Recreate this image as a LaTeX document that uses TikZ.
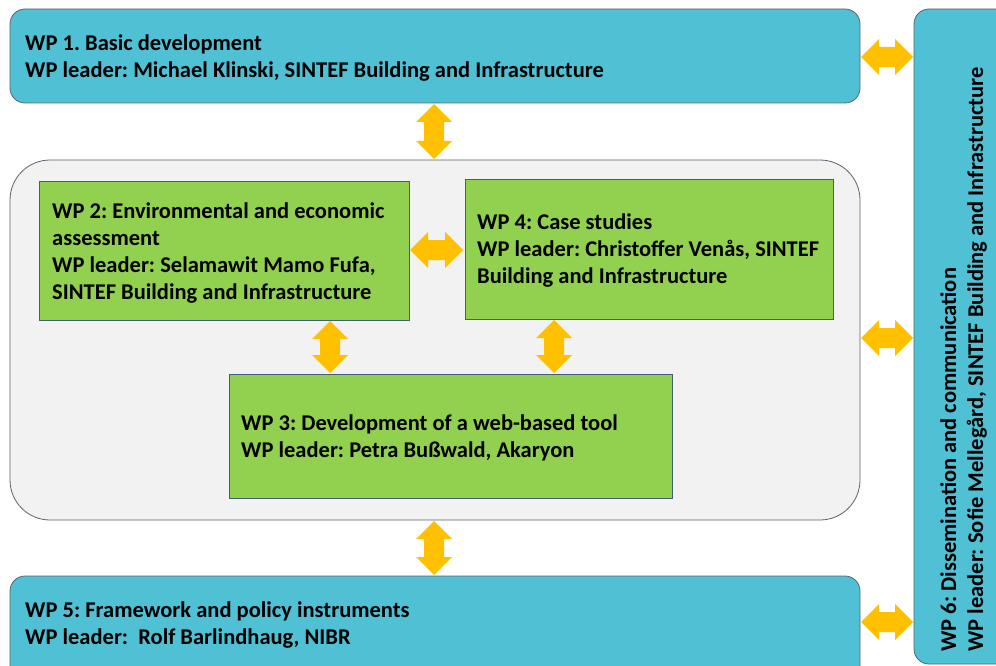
\documentclass[tikz,border=0pt]{standalone}
\usepackage{fontspec}
\setmainfont{Carlito}
\frenchspacing
\usetikzlibrary{calc}
\definecolor{wpblue}{RGB}{80,192,212}
\definecolor{wpgreen}{RGB}{146,208,80}
\definecolor{wporange}{RGB}{255,192,0}
\definecolor{wpgrey}{RGB}{242,242,242}
\definecolor{bordgrey}{RGB}{90,100,110}
\definecolor{bordgreen}{RGB}{65,95,125}
\tikzset{
  bluebox/.style={draw=bordgrey, line width=0.8pt, fill=wpblue, rounded corners=15pt},
  greybox/.style={draw=bordgrey, line width=0.8pt, fill=wpgrey, rounded corners=40pt},
  greenbox/.style={draw=bordgreen, line width=0.8pt, fill=wpgreen},
  lbl/.style={anchor=north west, inner sep=0pt, align=left, font=\fontsize{22.5}{27}\selectfont\bfseries},
  arr/.style={fill=wporange, draw=none}
}
\newcommand\varrow[2]{%
  \fill[arr] let \p1=(#1), \p2=(#2) in
    (\x1,\y1) -- ++(18pt,-18pt) -- ++(-8pt,0) -- (\x1+10pt,\y2+18pt) -- ++(8pt,0) -- (\x1,\y2)
    -- ++(-18pt,18pt) -- ++(8pt,0) -- (\x1-10pt,\y1-18pt) -- ++(-8pt,0) -- cycle;}
\newcommand\harrow[2]{%
  \fill[arr] let \p1=(#1), \p2=(#2) in
    (\x1,\y1) -- ++(18pt,18pt) -- ++(0,-8pt) -- (\x2-18pt,\y1+10pt) -- ++(0,8pt) -- (\x2,\y1)
    -- ++(-18pt,-18pt) -- ++(0,8pt) -- (\x1+18pt,\y1-10pt) -- ++(0,-8pt) -- cycle;}
\begin{document}
\begin{tikzpicture}[x=1pt,y=-1pt]
\useasboundingbox (0,0) rectangle (996,666);
\begin{scope}
\clip (0,0) rectangle (996,666);
% boxes
\path[bluebox] (10,9) rectangle (860,103);
\path[bluebox] (914,9) rectangle (1020,664);
\path[greybox] (10,160) rectangle (860,520);
\path[greenbox] (39,181) rectangle (409,320);
\path[greenbox] (465,179) rectangle (833,319);
\path[greenbox] (229,374) rectangle (672,498);
\path[bluebox] (10,576) rectangle (860,700);
\end{scope}
% named anchor nodes for boxes
\node[inner sep=0, minimum width=850, minimum height=94] (wp1) at (435,56) {};
\node[inner sep=0, minimum width=82, minimum height=655] (wp6) at (955,336.5) {};
\node[inner sep=0, minimum width=850, minimum height=360] (grp) at (435,340) {};
\node[inner sep=0, minimum width=370, minimum height=139] (wp2) at (224,250.5) {};
\node[inner sep=0, minimum width=368, minimum height=140] (wp4) at (649,249) {};
\node[inner sep=0, minimum width=443, minimum height=124] (wp3) at (450.5,436) {};
\node[inner sep=0, minimum width=850, minimum height=90] (wp5) at (435,621) {};
% labels
\node[lbl] (t1) at (25,35) {WP 1. Basic development\\WP leader: Michael Klinski, SINTEF Building and Infrastructure};
\node[lbl] (t2) at (52,203) {WP 2: Environmental and economic\\assessment\\WP leader: Selamawit Mamo Fufa,\\SINTEF Building and Infrastructure};
\node[lbl] (t4) at (477,214) {WP 4: Case studies\\WP leader: Christoffer Venås, SINTEF\\Building and Infrastructure};
\node[lbl] (t3) at (241,415) {WP 3: Development of a web-based tool\\WP leader: Petra Bußwald, Akaryon};
\node[lbl] (t5) at (25,602) {WP 5: Framework and policy instruments\\WP leader:~ Rolf Barlindhaug, NIBR};
\node[lbl, rotate=90] (t6) at (940,652) {WP 6: Dissemination and communication\\WP leader: Sofie Mellegård, SINTEF Building and Infrastructure};
% arrows
\varrow{434,104}{434,159}
\varrow{434,521}{434,575}
\varrow{330,321}{330,373}
\varrow{554,320}{554,373}
\harrow{410,250}{463,250}
\harrow{861,57}{913,57}
\harrow{861,338}{913,338}
\harrow{861,622}{913,622}
\end{tikzpicture}
\end{document}
